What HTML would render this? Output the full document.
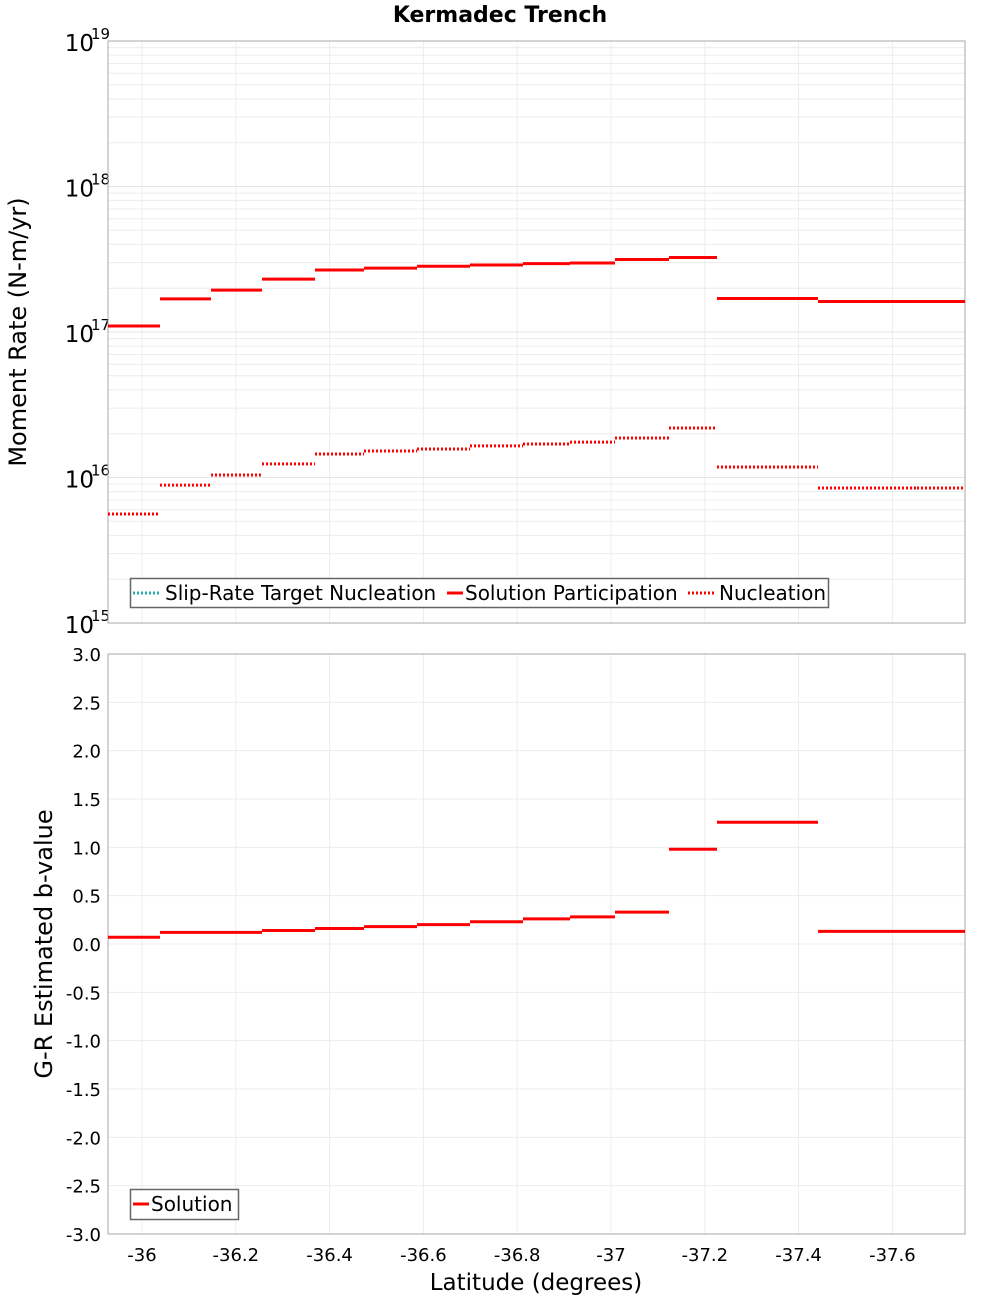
<!DOCTYPE html>
<html><head><meta charset="utf-8">
<style>
html,body{margin:0;padding:0;background:#fff;}
body{position:relative;width:1000px;height:1300px;overflow:hidden}
svg{display:block;font-family:"DejaVu Sans","Liberation Sans",sans-serif;}
</style></head>
<body>
<svg id="chart" width="1000" height="1300" viewBox="0 0 1000 1300" xmlns="http://www.w3.org/2000/svg">
<text x="500" y="22" text-anchor="middle" font-size="22" font-weight="bold">Kermadec Trench</text>
<g id="topG"></g>
<g id="botG"></g>
</svg>
<script>
const bounds = [-35.9275,-36.0384,-36.1471,-36.2559,-36.3689,-36.4733,-36.5864,-36.6994,-36.8124,-36.9126,-37.0085,-37.1237,-37.2260,-37.3284,-37.4414,-37.5522,-37.6525,-37.7548];
const participation = [1.10e17,1.69e17,1.94e17,2.31e17,2.67e17,2.75e17,2.83e17,2.89e17,2.95e17,2.98e17,3.15e17,3.25e17,1.70e17,1.70e17,1.62e17,1.62e17,1.62e17];
const nucleation = [5.61e15,8.87e15,1.04e16,1.24e16,1.45e16,1.52e16,1.57e16,1.65e16,1.70e16,1.75e16,1.87e16,2.19e16,1.18e16,1.18e16,8.47e15,8.47e15,8.47e15];
const bvalues = [0.07,0.12,0.12,0.14,0.16,0.18,0.20,0.23,0.26,0.28,0.33,0.98,1.26,1.26,0.13,0.13,0.13];
const xTicks = [-36,-36.2,-36.4,-36.6,-36.8,-37,-37.2,-37.4,-37.6];
const xTickLabels = ["-36","-36.2","-36.4","-36.6","-36.8","-37","-37.2","-37.4","-37.6"];
const logDecades = [15,16,17,18,19];
const bTicks = [3.0,2.5,2.0,1.5,1.0,0.5,0.0,-0.5,-1.0,-1.5,-2.0,-2.5,-3.0];

const NS="http://www.w3.org/2000/svg";
const L=108,R=965,T1=41,B1=623,T2=654,B2=1234;
const xs = v => 142 + (-36 - v)*469;
const ysLog = v => T1 + (19 - Math.log10(v))*(B1-T1)/4;
const ysB = v => T2 + (3 - v)*(B2-T2)/6;
function mk(tag,attrs,parent,text){const e=document.createElementNS(NS,tag);for(const k in attrs)e.setAttribute(k,attrs[k]);if(text!==undefined)e.textContent=text;parent.appendChild(e);return e;}
const topG=document.getElementById('topG'), botG=document.getElementById('botG');

for(let d=15; d<19; d++){for(let m=2;m<=9;m++){const y=ysLog(m*Math.pow(10,d));
 const g=mk('line',{x1:L,x2:R,y1:y,y2:y,stroke:'#ececec','stroke-width':1},topG);
 
 }}
logDecades.forEach(d=>{const y=ysLog(Math.pow(10,d));
 const g=mk('line',{x1:L,x2:R,y1:y,y2:y,stroke:'#e4e4e4','stroke-width':1},topG);
 
 
 const t=mk('text',{x:L-14,y:y+10,'text-anchor':'end','font-size':23},topG,'10');
 
 
 const s=mk('text',{x:L-17,y:y-2,'text-anchor':'start','font-size':15},topG,String(d));
 
 
});
xTicks.forEach(v=>{const x=xs(v);
 const g=mk('line',{x1:x,x2:x,y1:T1,y2:B1,stroke:'#ececec','stroke-width':1},topG);
 
 
 const g2=mk('line',{x1:x,x2:x,y1:T2,y2:B2,stroke:'#ececec','stroke-width':1},botG);
 
 
});
bTicks.forEach(v=>{const y=ysB(v);
 const g=mk('line',{x1:L,x2:R,y1:y,y2:y,stroke:'#ececec','stroke-width':1},botG);
 
 
 const t=mk('text',{x:L-7,y:y+7,'text-anchor':'end','font-size':18},botG,v.toFixed(1));
 
 
});
xTicks.forEach((v,i)=>{
 const t=mk('text',{x:xs(v),y:1261,'text-anchor':'middle','font-size':18},botG,xTickLabels[i]);
 
 
});
const f1=mk('rect',{x:L,y:T1,width:R-L,height:B1-T1,fill:'none',stroke:'#aaa','stroke-width':1},topG);


const f2=mk('rect',{x:L,y:T2,width:R-L,height:B2-T2,fill:'none',stroke:'#aaa','stroke-width':1},botG);



for(let i=0;i<participation.length;i++){
 const x1=xs(bounds[i]),x2=xs(bounds[i+1]);
 let y=ysLog(participation[i]);
 const a=mk('line',{x1:x1,x2:x2,y1:y,y2:y,stroke:'#ff0000','stroke-width':3},topG);
 
 
 y=ysLog(nucleation[i]);
 const b=mk('line',{x1:x1,x2:x2,y1:y,y2:y,stroke:'#ff0000','stroke-width':3,'stroke-dasharray':'2 2'},topG);
 
 
 y=ysB(bvalues[i]);
 const c=mk('line',{x1:x1,x2:x2,y1:y,y2:y,stroke:'#ff0000','stroke-width':3},botG);
 
 
}
</script>
<svg style="position:absolute;left:0;top:0" width="1000" height="1300">
<text transform="translate(26,332) rotate(-90)" text-anchor="middle" font-size="24">Moment Rate (N-m/yr)</text>
<text transform="translate(52,944) rotate(-90)" text-anchor="middle" font-size="24">G-R Estimated b-value</text>
<text x="536" y="1290" text-anchor="middle" font-size="23">Latitude (degrees)</text>
<g>
<rect x="130.5" y="578.5" width="698" height="29" fill="#fff" stroke="#666" stroke-width="1.5"/>
<line x1="133" x2="161" y1="593" y2="593" stroke="#20b0b0" stroke-width="3" stroke-dasharray="2 2"/>
<text x="165" y="600" font-size="20">Slip-Rate Target Nucleation</text>
<line x1="447" x2="463" y1="593" y2="593" stroke="#ff0000" stroke-width="3"/>
<text x="465" y="600" font-size="20">Solution Participation</text>
<line x1="688" x2="716" y1="593" y2="593" stroke="#ff0000" stroke-width="3" stroke-dasharray="2 2"/>
<text x="719" y="600" font-size="20">Nucleation</text>
</g>
<g>
<rect x="130.5" y="1189.5" width="108" height="30" fill="#fff" stroke="#666" stroke-width="1.5"/>
<line x1="133" x2="149" y1="1204" y2="1204" stroke="#ff0000" stroke-width="3"/>
<text x="151" y="1211" font-size="20">Solution</text>
</g>
</svg>
</body></html>
